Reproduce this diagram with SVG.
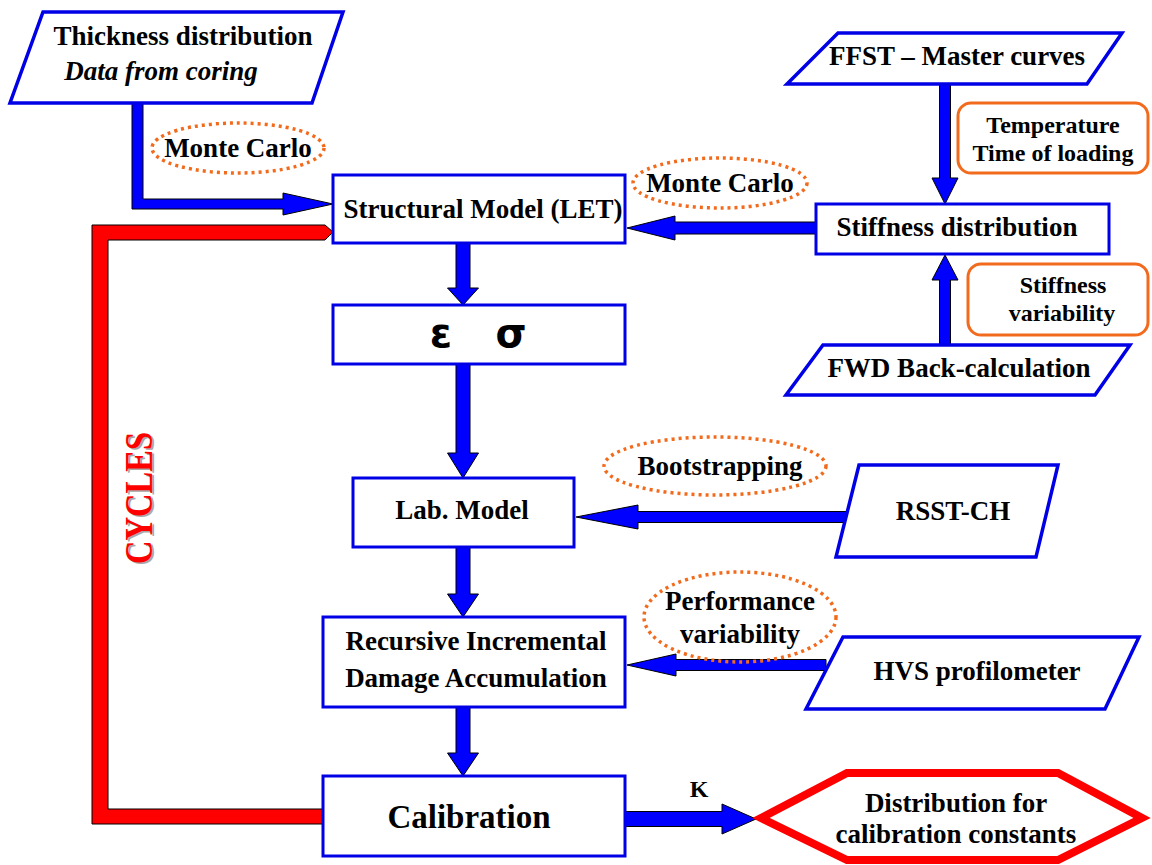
<svg xmlns="http://www.w3.org/2000/svg" width="1152" height="865" viewBox="0 0 1152 865">
<style>
.box{fill:#fff;stroke:#0000E6;stroke-width:3}
.para{fill:#fff;stroke:#0000E6;stroke-width:3.5}
.t{font-family:"Liberation Serif","Times New Roman",serif;font-weight:bold;fill:#000;text-anchor:middle;font-size:27px}
.s{font-size:24px}
.big{font-size:33px}
.cyc{font-size:40px}
.ell{fill:none;stroke:#F26B1D;stroke-width:3.5;stroke-dasharray:3 4}
.rr{fill:#fff;stroke:#F26B1D;stroke-width:3}
.arr{fill:#0000FF;stroke:#000;stroke-width:1}
.g{font-family:"DejaVu Sans",sans-serif;font-weight:bold;font-size:40px;text-anchor:middle}
</style>
<rect width="1152" height="865" fill="#fff"/>
<g id="connectors">
<polygon class="arr" points="132,103 143,103 143,199 283,199 283,193 333,204 283,215 283,209 132,209"/>
<polygon class="arr" points="816,222 675,222 675,216 627,228 675,240 675,234 816,234"/>
<polygon class="arr" points="939.5,84 950.5,84 950.5,178 958,178 945,204 932,178 939.5,178"/>
<polygon class="arr" points="939.5,345 939.5,280 932,280 945,255 958,280 950.5,280 950.5,345"/>
<polygon class="arr" points="456,243 470,243 470,288 478.5,288 463,305 447.5,288 456,288"/>
<polygon class="arr" points="456,364 470,364 470,453 478.5,453 463,478 447.5,453 456,453"/>
<polygon class="arr" points="456,547 470,547 470,594 478.5,594 463,617 447.5,594 456,594"/>
<polygon class="arr" points="456,707 470,707 470,753 478.5,753 463,776 447.5,753 456,753"/>
<polygon class="arr" points="848,511.5 638,511.5 638,505 576,517 638,529 638,522.5 848,522.5"/>
<polygon class="arr" points="826,659.5 676,659.5 676,654 627,665 676,676 676,670.5 826,670.5"/>
<polygon class="arr" points="625,811.5 722,811.5 722,804 756,819 722,834 722,826.5 625,826.5"/>
<polygon fill="#FF0000" stroke="#000" stroke-width="1" points="92,225 325,225 333,232 325,240 108,240 108,809 323,809 323,824 92,824"/>
<text class="t cyc" transform="translate(153.5,499.5) rotate(-90)" textLength="132" lengthAdjust="spacingAndGlyphs" style="fill:#A8A8A8">CYCLES</text>
<text class="t cyc" transform="translate(152,498) rotate(-90)" textLength="132" lengthAdjust="spacingAndGlyphs" style="fill:#FF0000">CYCLES</text>
<text class="t s" x="699" y="797">K</text>
</g>
<g id="thickness">
<polygon class="para" points="43,12 343,12 312,103 10,103"/>
<text class="t" x="183" y="45">Thickness distribution</text>
<text class="t" x="161" y="80" font-style="italic">Data from coring</text>
</g>
<g id="mc1">
<ellipse class="ell" cx="238" cy="148" rx="86" ry="25"/>
<text class="t" x="238" y="157">Monte Carlo</text>
</g>
<g id="structural">
<rect class="box" x="333" y="175" width="292" height="68"/>
<text class="t" x="483" y="218">Structural Model (LET)</text>
</g>
<g id="mc2">
<ellipse class="ell" cx="720" cy="183" rx="87" ry="25"/>
<text class="t" x="720" y="192">Monte Carlo</text>
</g>
<g id="ffst">
<polygon class="para" points="838,33 1122,33 1087,84 787,84"/>
<text class="t" x="957" y="65">FFST – Master curves</text>
</g>
<g id="temp">
<rect class="rr" x="958" y="103" width="190" height="70" rx="13"/>
<text class="t s" x="1053" y="133">Temperature</text>
<text class="t s" x="1053" y="161">Time of loading</text>
</g>
<g id="stiffness">
<rect class="box" x="816" y="204" width="293" height="50"/>
<text class="t" x="957" y="236">Stiffness distribution</text>
</g>
<g id="stiffvar">
<rect class="rr" x="968" y="264" width="180" height="71" rx="13"/>
<text class="t s" x="1063" y="293">Stiffness</text>
<text class="t s" x="1062" y="321">variability</text>
</g>
<g id="fwd">
<polygon class="para" points="823,345 1130,345 1095,395 786,395"/>
<text class="t" x="959" y="377">FWD Back-calculation</text>
</g>
<g id="eps">
<rect class="box" x="333" y="305" width="292" height="59"/>
<text class="g" x="441" y="347">ε</text>
<text class="g" x="511" y="347">σ</text>
</g>
<g id="boot">
<ellipse class="ell" cx="715" cy="466" rx="111" ry="29"/>
<text class="t" x="720" y="475">Bootstrapping</text>
</g>
<g id="lab">
<rect class="box" x="353" y="478" width="221" height="69"/>
<text class="t" x="462" y="519">Lab. Model</text>
</g>
<g id="rsst">
<polygon class="para" points="859,465 1058,465 1036,557 836,557"/>
<text class="t" x="953" y="520">RSST-CH</text>
</g>
<g id="perf">
<ellipse class="ell" cx="740" cy="617" rx="96" ry="45"/>
<text class="t" x="740" y="610">Performance</text>
<text class="t" x="740" y="643">variability</text>
</g>
<g id="recursive">
<rect class="box" x="323" y="617" width="302" height="90"/>
<text class="t" x="476" y="650">Recursive Incremental</text>
<text class="t" x="476" y="687">Damage Accumulation</text>
</g>
<g id="hvs">
<polygon class="para" points="843,637 1139,637 1105,709 806,709"/>
<text class="t" x="977" y="680">HVS profilometer</text>
</g>
<g id="calibration">
<rect class="box" x="323" y="776" width="302" height="80"/>
<text class="t big" x="469" y="828">Calibration</text>
</g>
<g id="distribution">
<polygon fill="#fff" stroke="#FF0000" stroke-width="8" points="761,818 847,773 1058,773 1142,818 1058,860 847,860"/>
<text class="t" x="956" y="812">Distribution for</text>
<text class="t" x="956" y="843">calibration constants</text>
</g>
</svg>
